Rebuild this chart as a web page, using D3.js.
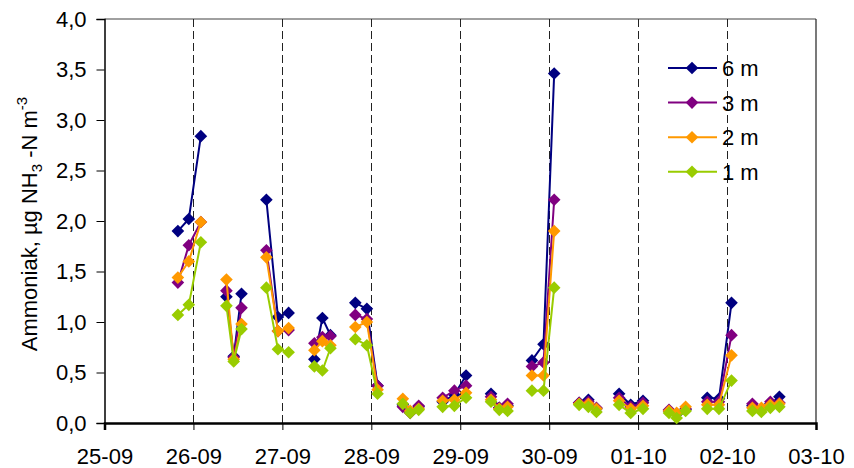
<!DOCTYPE html>
<html>
<head>
<meta charset="utf-8">
<script src="https://cdn.jsdelivr.net/npm/d3@7"></script>
<style>
  html, body { margin: 0; padding: 0; background: #fff; }
  svg { display: block; font-family: "Liberation Sans", Arial, sans-serif; }
</style>
</head>
<body>
<svg id="chart" width="854" height="468"></svg>
<script>
// Sampling times (day-month hour:minute); each run of samples is drawn as its own line piece
const sampleTimes = [
  "25-09 19:48", "25-09 22:45", "26-09 02:00",
  "26-09 08:54", "26-09 10:52", "26-09 12:58",
  "26-09 19:41", "26-09 22:48", "27-09 01:41",
  "27-09 08:38", "27-09 10:48", "27-09 12:58",
  "27-09 19:41", "27-09 22:48", "28-09 01:41",
  "28-09 08:30", "28-09 10:29", "28-09 12:47",
  "28-09 19:15", "28-09 22:25", "29-09 01:34",
  "29-09 08:18", "29-09 10:32", "29-09 12:46",
  "29-09 19:21", "29-09 22:28", "30-09 01:21",
  "30-09 08:05", "30-09 10:35", "30-09 12:45",
  "30-09 18:52", "30-09 22:00", "01-10 01:19",
  "01-10 08:20", "01-10 10:24", "01-10 12:49",
  "01-10 18:39", "01-10 21:49", "02-10 01:12",
  "02-10 06:50", "02-10 09:16", "02-10 11:41", "02-10 14:07"
];
const sampleRun = [
  1, 1, 1, 2, 2, 2, 3, 3, 3, 4, 4, 4, 5, 5, 5, 6, 6, 6, 7, 7, 7,
  8, 8, 8, 9, 9, 9, 10, 10, 10, 11, 11, 11, 12, 12, 12, 13, 13, 13,
  14, 14, 14, 14
];

// Ammonia, µg NH3-N m-3, per measuring height
const nh3At6m = [
  1.90, 2.02, 2.84, 1.25, 0.66, 1.28, 2.21, 1.05, 1.09, 0.63, 1.04, 0.87,
  1.19, 1.13, 0.37, 0.18, 0.11, 0.16, 0.21, 0.28, 0.47, 0.29, 0.15, 0.17,
  0.62, 0.78, 3.46, 0.20, 0.23, 0.14, 0.29, 0.18, 0.22, 0.12, 0.09, 0.13,
  0.25, 0.24, 1.19, 0.17, 0.14, 0.19, 0.26
];
const nh3At3m = [
  1.39, 1.76, 1.99, 1.31, 0.65, 1.14, 1.71, 0.91, 0.92, 0.79, 0.85, 0.86,
  1.07, 1.03, 0.37, 0.16, 0.10, 0.17, 0.25, 0.32, 0.37, 0.26, 0.15, 0.19,
  0.56, 0.60, 2.21, 0.20, 0.21, 0.15, 0.25, 0.16, 0.20, 0.13, 0.09, 0.14,
  0.21, 0.21, 0.87, 0.19, 0.14, 0.21, 0.20
];
const nh3At2m = [
  1.44, 1.60, 1.99, 1.42, 0.63, 0.98, 1.64, 0.91, 0.94, 0.72, 0.81, 0.77,
  0.95, 1.00, 0.33, 0.24, 0.12, 0.14, 0.22, 0.23, 0.30, 0.23, 0.14, 0.16,
  0.47, 0.47, 1.90, 0.19, 0.19, 0.14, 0.22, 0.14, 0.17, 0.12, 0.10, 0.16,
  0.18, 0.18, 0.67, 0.15, 0.15, 0.18, 0.19
];
const nh3At1m = [
  1.07, 1.17, 1.79, 1.16, 0.61, 0.93, 1.34, 0.73, 0.70, 0.56, 0.52, 0.74,
  0.83, 0.77, 0.29, 0.19, 0.10, 0.13, 0.16, 0.17, 0.25, 0.21, 0.13, 0.12,
  0.32, 0.32, 1.34, 0.18, 0.16, 0.11, 0.18, 0.10, 0.14, 0.10, 0.05, 0.12,
  0.14, 0.14, 0.42, 0.12, 0.11, 0.15, 0.16
];

const seriesNames = ["6 m", "3 m", "2 m", "1 m"];
const seriesColors = ["#000080", "#800080", "#FF9900", "#99CC00"];
const seriesValues = [nh3At6m, nh3At3m, nh3At2m, nh3At1m];

const xTickLabels = ["25-09", "26-09", "27-09", "28-09", "29-09", "30-09", "01-10", "02-10", "03-10"];
const dayLineLabels = ["26-09", "27-09", "28-09", "29-09", "30-09", "01-10", "02-10"];
const yTicks = [0, 0.5, 1.0, 1.5, 2.0, 2.5, 3.0, 3.5, 4.0];

const parseTime = d3.timeParse("%d-%m %H:%M");
const parseDay = d3.timeParse("%d-%m");

const svg = d3.select("#chart");
const plot = { left: 104.5, right: 816, top: 19, bottom: 423 };

const x = d3.scaleTime()
  .domain([parseDay(xTickLabels[0]), parseDay(xTickLabels[xTickLabels.length - 1])])
  .range([plot.left, plot.right]);
const y = d3.scaleLinear()
  .domain([yTicks[0], yTicks[yTicks.length - 1]])
  .range([plot.bottom, plot.top]);

const fmtComma = v => d3.format(".1f")(v).replace(".", ",");

// Plot frame (top and right)
svg.append("line")
  .attr("x1", plot.left).attr("x2", plot.right)
  .attr("y1", plot.top).attr("y2", plot.top)
  .attr("stroke", "#808080").attr("stroke-width", 1.5);
svg.append("line")
  .attr("x1", plot.right).attr("x2", plot.right)
  .attr("y1", plot.top).attr("y2", plot.bottom)
  .attr("stroke", "#202020").attr("stroke-width", 1.2);

// Dashed day separators
svg.append("g").selectAll("line")
  .data(dayLineLabels.map(parseDay))
  .join("line")
  .attr("x1", d => Math.round(x(d)) + 0.5).attr("x2", d => Math.round(x(d)) + 0.5)
  .attr("y1", plot.top).attr("y2", plot.bottom)
  .attr("stroke", "#222").attr("stroke-width", 1)
  .attr("stroke-dasharray", "8,4");

// Axes
const yAxis = d3.axisLeft(y).tickValues(yTicks).tickFormat(fmtComma).tickSizeOuter(0).tickSize(8).tickPadding(10);
const gy = svg.append("g").attr("transform", `translate(${plot.left},0)`).call(yAxis);
gy.select(".domain").attr("stroke", "#000").attr("stroke-width", 1.5);
gy.selectAll(".tick line").attr("stroke", "#000").attr("stroke-width", 1);
gy.selectAll("text").attr("font-size", 22).attr("fill", "#000")
  .attr("font-family", "'Liberation Sans', Arial, sans-serif");

const xAxis = d3.axisBottom(x).tickValues(xTickLabels.map(parseDay))
  .tickFormat(d3.timeFormat("%d-%m")).tickSizeOuter(0).tickSize(7).tickPadding(18);
const gx = svg.append("g").attr("transform", `translate(0,${plot.bottom})`).call(xAxis);
gx.select(".domain").attr("stroke", "#000").attr("stroke-width", 2.5);
gx.selectAll(".tick line").attr("stroke", "#000").attr("stroke-width", 1);
gx.selectAll("text").attr("font-size", 22).attr("fill", "#000")
  .attr("font-family", "'Liberation Sans', Arial, sans-serif");

// Y axis title
const yTitle = svg.append("text")
  .attr("transform", "translate(37,224) rotate(-90)")
  .attr("text-anchor", "middle")
  .attr("font-size", 22)
  .attr("fill", "#000");
yTitle.append("tspan").text("Ammoniak, µg NH");
yTitle.append("tspan").attr("font-size", 15).attr("dy", 5).text("3");
yTitle.append("tspan").attr("dy", -5).text(" -N m");
yTitle.append("tspan").attr("font-size", 15).attr("dy", -10).text("-3");

// Series: line pieces per sampling run, then diamond markers
const diamond = d3.symbol().type(d3.symbolSquare).size(80);
const line = d3.line().x(d => x(d.t)).y(d => y(d.v));
const times = sampleTimes.map(parseTime);

seriesValues.forEach((vals, si) => {
  const pts = vals.map((v, i) => ({ t: times[i], v, run: sampleRun[i] }));
  const runs = d3.groups(pts, d => d.run).map(g => g[1]);
  const g = svg.append("g");
  g.selectAll("path.seg").data(runs).join("path")
    .attr("class", "seg")
    .attr("d", line)
    .attr("fill", "none")
    .attr("stroke", seriesColors[si])
    .attr("stroke-width", 2);
  g.selectAll("path.mk").data(pts).join("path")
    .attr("class", "mk")
    .attr("d", diamond)
    .attr("transform", d => `translate(${x(d.t)},${y(d.v)}) rotate(45)`)
    .attr("fill", seriesColors[si]);
});

// Legend
const legend = svg.append("g");
seriesNames.forEach((name, i) => {
  const ly = 68 + i * 34.6;
  legend.append("line")
    .attr("x1", 668).attr("x2", 717).attr("y1", ly).attr("y2", ly)
    .attr("stroke", seriesColors[i]).attr("stroke-width", 2);
  legend.append("path")
    .attr("d", diamond)
    .attr("transform", `translate(692,${ly}) rotate(45)`)
    .attr("fill", seriesColors[i]);
  legend.append("text")
    .attr("x", 722).attr("y", ly).attr("dy", "0.36em")
    .attr("font-size", 22).attr("fill", "#000")
    .text(name);
});
</script>
</body>
</html>
